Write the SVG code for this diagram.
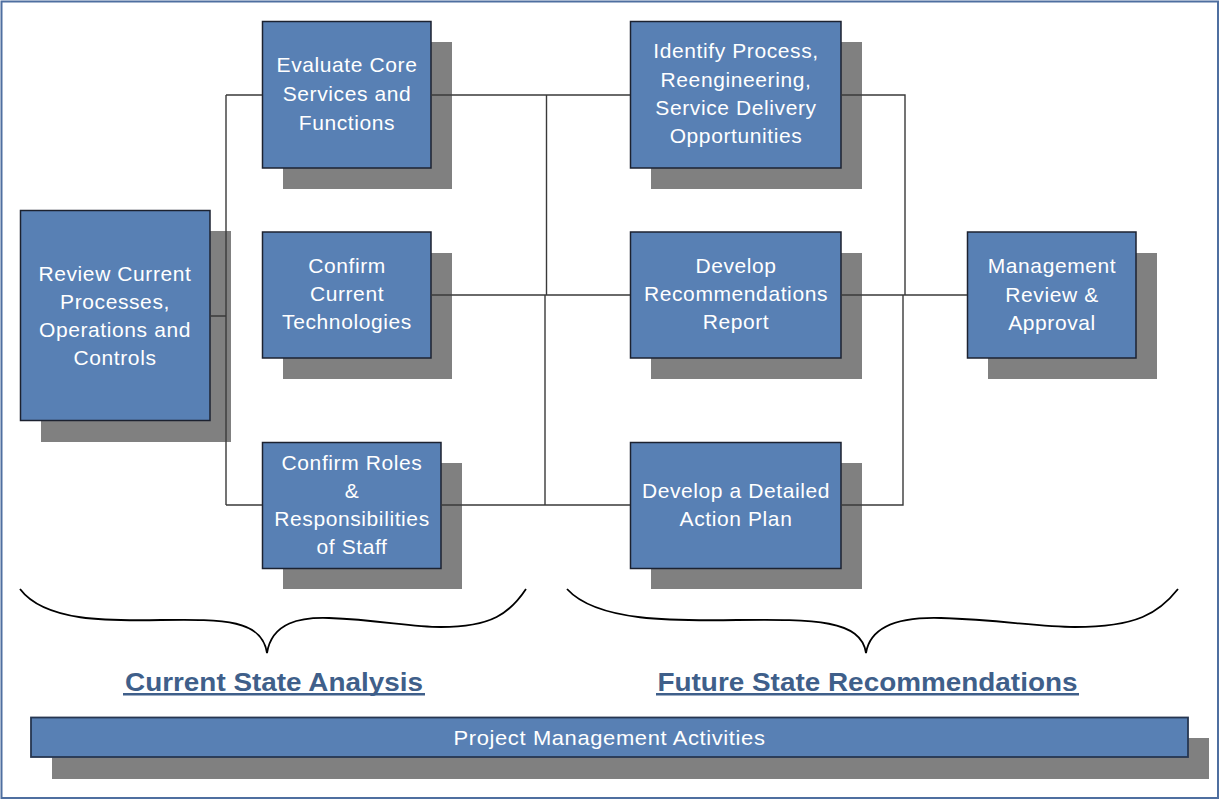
<svg xmlns="http://www.w3.org/2000/svg" width="1220" height="800" viewBox="0 0 1220 800">
<style>
.box{fill:#5880B4;stroke:#1c2230;stroke-width:1.5}
.sh{fill:#808080}
.t{font-family:"Liberation Sans",Arial,sans-serif;font-size:21px;fill:#ffffff;text-anchor:middle;letter-spacing:0.6px}
.c{fill:none;stroke:#3a3a3a;stroke-width:1.4}
.br{fill:none;stroke:#000;stroke-width:1.8}
.lbl{font-family:"Liberation Sans",Arial,sans-serif;font-size:25px;font-weight:bold;fill:#3F5F8A;text-anchor:middle}
</style>
<rect x="0" y="0" width="1220" height="800" fill="#ffffff"/>
<rect x="1.5" y="1.5" width="1216.5" height="796.5" fill="none" stroke="#4F6FA0" stroke-width="2"/>

<g id="review">
<rect class="sh" x="41" y="231" width="190" height="211"/>
<rect class="box" x="20.5" y="210.5" width="189.5" height="210"/>
<text class="t"><tspan x="115" y="281">Review Current</tspan><tspan x="115" y="309">Processes,</tspan><tspan x="115" y="337">Operations and</tspan><tspan x="115" y="365">Controls</tspan></text>
</g>

<g id="evaluate">
<rect class="sh" x="283" y="42" width="169" height="147"/>
<rect class="box" x="262.5" y="21.5" width="168.5" height="146.5"/>
<text class="t"><tspan x="347" y="72">Evaluate Core</tspan><tspan x="347" y="101">Services and</tspan><tspan x="347" y="129.5">Functions</tspan></text>
</g>

<g id="confirm-tech">
<rect class="sh" x="283" y="253" width="169" height="126"/>
<rect class="box" x="262.5" y="232" width="168.5" height="126"/>
<text class="t"><tspan x="347" y="273">Confirm</tspan><tspan x="347" y="301">Current</tspan><tspan x="347" y="329">Technologies</tspan></text>
</g>

<g id="confirm-roles">
<rect class="sh" x="283" y="463" width="179" height="126"/>
<rect class="box" x="262.5" y="442.5" width="178.5" height="126"/>
<text class="t"><tspan x="352" y="470">Confirm Roles</tspan><tspan x="352" y="498">&amp;</tspan><tspan x="352" y="526">Responsibilities</tspan><tspan x="352" y="554">of Staff</tspan></text>
</g>

<g id="identify">
<rect class="sh" x="651" y="42" width="211" height="147"/>
<rect class="box" x="630.5" y="21.5" width="210.5" height="146.5"/>
<text class="t"><tspan x="736" y="58">Identify Process,</tspan><tspan x="736" y="86.5">Reengineering,</tspan><tspan x="736" y="115">Service Delivery</tspan><tspan x="736" y="143">Opportunities</tspan></text>
</g>

<g id="recommendations">
<rect class="sh" x="651" y="253" width="211" height="126"/>
<rect class="box" x="630.5" y="232" width="210.5" height="126"/>
<text class="t"><tspan x="736" y="273">Develop</tspan><tspan x="736" y="301">Recommendations</tspan><tspan x="736" y="329">Report</tspan></text>
</g>

<g id="action-plan">
<rect class="sh" x="651" y="463" width="211" height="126"/>
<rect class="box" x="630.5" y="442.5" width="210.5" height="126"/>
<text class="t"><tspan x="736" y="498">Develop a Detailed</tspan><tspan x="736" y="526">Action Plan</tspan></text>
</g>

<g id="management">
<rect class="sh" x="988" y="253" width="169" height="126"/>
<rect class="box" x="967.5" y="232" width="168.5" height="126"/>
<text class="t"><tspan x="1052" y="273">Management</tspan><tspan x="1052" y="301.5">Review &amp;</tspan><tspan x="1052" y="330">Approval</tspan></text>
</g>

<g id="connectors">
<path class="c" d="M210,316 H226 M226,95 V505 M226,95 H262 M226,505 H262"/>
<path class="c" d="M431,95 H630 M546.5,95 V295 M431,295 H630 M545,295 V505 M441,505 H630"/>
<path class="c" d="M841,95 H905 V295 M841,295 H967 M903,295 V505 H841"/>
</g>

<g id="braces">
<path class="br" d="M20,589 C45,622 109,621 161,620 C225,619 262,620 267,653 C272,622 301,617 329,618 C381,620 409,627 441,627 C492,627 510,613 526,589"/>
<path class="br" d="M567,589 C597,622 675,621 737,620 C815,619 861,620 866,653 C871,622 907,617 941,618 C1003,620 1038,627 1075,627 C1137,627 1159,613 1178,589"/>
</g>

<g id="label-current">
<text class="lbl" x="274" y="691" textLength="298" lengthAdjust="spacingAndGlyphs">Current State Analysis</text>
<rect x="123" y="693" width="302" height="2.5" fill="#3F5F8A"/>
</g>
<g id="label-future">
<text class="lbl" x="867.5" y="691" textLength="420" lengthAdjust="spacingAndGlyphs">Future State Recommendations</text>
<rect x="656" y="693" width="423" height="2.5" fill="#3F5F8A"/>
</g>

<g id="project-management">
<rect class="sh" x="52" y="738" width="1157" height="41"/>
<rect x="31" y="717.5" width="1157" height="39.5" fill="#5880B4" stroke="#263650" stroke-width="1.8"/>
<text class="t" x="609.5" y="745" textLength="312" lengthAdjust="spacingAndGlyphs">Project Management Activities</text>
</g>
</svg>
